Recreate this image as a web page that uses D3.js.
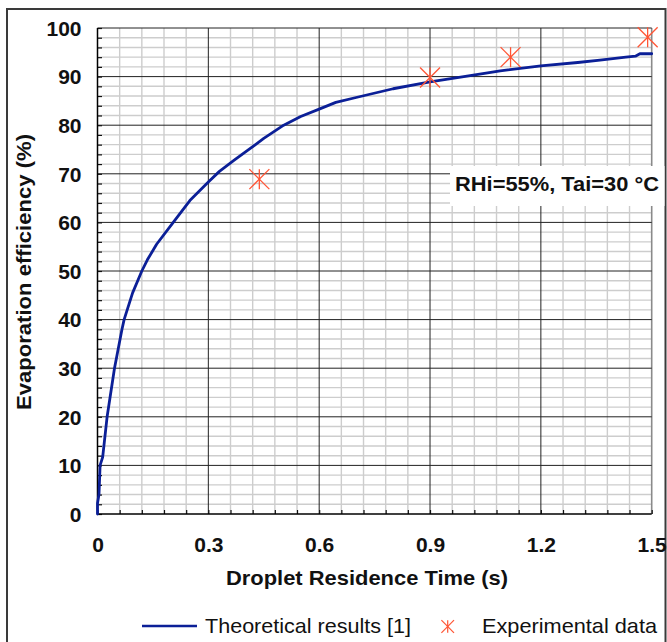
<!DOCTYPE html>
<html>
<head>
<meta charset="utf-8">
<script src="https://cdn.jsdelivr.net/npm/d3@7/dist/d3.min.js"></script>
<style>
  html, body { margin: 0; padding: 0; background: #fff; }
  svg { display: block; font-family: Arial, "Liberation Sans", sans-serif; }
</style>
</head>
<body>
<svg id="chart" width="667" height="642"></svg>
<script>
// Theoretical evaporation efficiency vs. droplet residence time
const residenceTime = [0, 0.0, 0.004, 0.007, 0.014, 0.026, 0.046, 0.066, 0.072, 0.095, 0.12, 0.135, 0.16, 0.205, 0.25, 0.3, 0.33, 0.37, 0.408, 0.45, 0.504, 0.55, 0.6, 0.645, 0.7, 0.8, 0.9, 1.0, 1.09, 1.2, 1.3, 1.36, 1.43, 1.456, 1.468, 1.5];
const efficiency    = [0, 2.2, 4, 10, 11.7, 20, 30, 37.9, 40, 45.5, 50, 52.3, 55.5, 60, 64.5, 68.3, 70.5, 72.8, 74.9, 77.3, 80, 81.8, 83.3, 84.7, 85.7, 87.5, 88.9, 90.1, 91.2, 92.2, 92.9, 93.4, 94.0, 94.2, 94.7, 94.7];

// Measured points
const expTime = [0.438, 0.9, 1.118, 1.489];
const expEff  = [68.9, 89.8, 94.0, 98.1];

// Axis ticks
const xTicks = [0, 0.3, 0.6, 0.9, 1.2, 1.5];
const xTickLabels = ["0", "0.3", "0.6", "0.9", "1.2", "1.5"];
const yTicks = [0, 10, 20, 30, 40, 50, 60, 70, 80, 90, 100];
const xMinor = d3.range(26).map(i => +(i * 0.06).toFixed(2));
const yMinor = d3.range(51).map(i => i * 2);

const svg = d3.select("#chart");
const x = d3.scaleLinear().domain([0, 1.5]).range([97.5, 651.7]);
const y = d3.scaleLinear().domain([0, 100]).range([514, 28]);

const FONT = 21;

// Outer chart frame
svg.append("rect")
  .attr("x", 7).attr("y", 9).attr("width", 658.5).attr("height", 660)
  .attr("fill", "#fff").attr("stroke", "#3a3a3a").attr("stroke-width", 2);

const plot = svg.append("g");

// Minor grid
const gMinor = plot.append("g");
gMinor.selectAll("line.vx").data(xMinor.filter(v => !xTicks.some(t => Math.abs(t - v) < 1e-6)))
  .join("line").attr("class", "vx")
  .attr("x1", d => x(d)).attr("x2", d => x(d)).attr("y1", y(100)).attr("y2", y(0))
  .attr("stroke", "#cdcdcd").attr("stroke-width", 1.4);
gMinor.selectAll("line.hy").data(yMinor.filter(v => v % 10 !== 0))
  .join("line").attr("class", "hy")
  .attr("x1", x(0)).attr("x2", x(1.5)).attr("y1", d => y(d)).attr("y2", d => y(d))
  .attr("stroke", "#cdcdcd").attr("stroke-width", 1.4);

// Major grid
const gMajor = plot.append("g");
gMajor.selectAll("line.vx").data(xTicks.slice(1))
  .join("line").attr("class", "vx")
  .attr("x1", d => x(d)).attr("x2", d => x(d)).attr("y1", y(100)).attr("y2", y(0))
  .attr("stroke", d => d === 1.5 ? "#8a8a8a" : "#222").attr("stroke-width", d => d === 1.5 ? 1.6 : 1);
gMajor.selectAll("line.hy").data(yTicks.slice(1))
  .join("line").attr("class", "hy")
  .attr("x1", x(0)).attr("x2", x(1.5)).attr("y1", d => y(d)).attr("y2", d => y(d))
  .attr("stroke", "#222").attr("stroke-width", 1);

// Minor tick marks (inward) on both axes
const yMinorAxis = d3.axisRight(y).tickValues(yMinor).tickSize(4.5).tickFormat("");
plot.append("g").attr("transform", `translate(${x(0)},0)`).call(yMinorAxis)
  .call(g => g.select(".domain").remove())
  .call(g => g.selectAll("line").attr("stroke", "#111").attr("stroke-width", 1.2));
const xMinorAxis = d3.axisTop(x).tickValues(xMinor).tickSize(4).tickFormat("");
plot.append("g").attr("transform", `translate(0,${y(0)})`).call(xMinorAxis)
  .call(g => g.select(".domain").remove())
  .call(g => g.selectAll("line").attr("stroke", "#111").attr("stroke-width", 1.2));

// Axis lines
plot.append("line").attr("x1", x(0)).attr("x2", x(0)).attr("y1", y(100)).attr("y2", y(0))
  .attr("stroke", "#000").attr("stroke-width", 1.5);
plot.append("line").attr("x1", x(0)).attr("x2", x(1.5)).attr("y1", y(0)).attr("y2", y(0))
  .attr("stroke", "#000").attr("stroke-width", 1.5);

// Tick labels
const yAxis = d3.axisLeft(y).tickValues(yTicks).tickSize(0).tickPadding(16);
svg.append("g").attr("transform", `translate(${x(0)},0)`).call(yAxis)
  .call(g => g.select(".domain").remove())
  .call(g => g.selectAll("text")
    .attr("font-size", FONT).attr("font-weight", "bold").attr("fill", "#111")
    .attr("font-family", "Arial, 'Liberation Sans', sans-serif")
    .attr("dy", 7.2));

const xAxis = d3.axisBottom(x).tickValues(xTicks).tickSize(0)
  .tickFormat((d, i) => xTickLabels[i]);
svg.append("g").attr("transform", `translate(0,${y(0)})`).call(xAxis)
  .call(g => g.select(".domain").remove())
  .call(g => g.selectAll("text")
    .attr("font-size", FONT).attr("font-weight", "bold").attr("fill", "#111")
    .attr("font-family", "Arial, 'Liberation Sans', sans-serif")
    .attr("y", 37.7).attr("dy", 0));

// Axis titles
svg.append("text")
  .attr("x", 367).attr("y", 585)
  .attr("text-anchor", "middle").attr("font-size", FONT).attr("font-weight", "bold").attr("fill", "#111")
  .attr("textLength", 282).attr("lengthAdjust", "spacingAndGlyphs")
  .text("Droplet Residence Time (s)");

svg.append("text")
  .attr("transform", `translate(31,272) rotate(-90)`)
  .attr("text-anchor", "middle").attr("font-size", FONT).attr("font-weight", "bold").attr("fill", "#111")
  .attr("textLength", 276).attr("lengthAdjust", "spacingAndGlyphs")
  .text("Evaporation efficiency (%)");

// Theoretical curve
const curveData = residenceTime.map((t, i) => [t, efficiency[i]]);
const line = d3.line().x(d => x(d[0])).y(d => y(d[1]));
svg.append("path").datum(curveData)
  .attr("d", line).attr("fill", "none")
  .attr("stroke", "#0b1f97").attr("stroke-width", 2.8)
  .attr("stroke-linejoin", "round").attr("stroke-linecap", "round");

// Asterisk marker
const STAR = "#ff5535";
function star(g, cx, cy, r) {
  g.append("line").attr("x1", cx).attr("x2", cx).attr("y1", cy - r).attr("y2", cy + r);
  g.append("line").attr("x1", cx - r).attr("x2", cx + r).attr("y1", cy - r).attr("y2", cy + r);
  g.append("line").attr("x1", cx - r).attr("x2", cx + r).attr("y1", cy + r).attr("y2", cy - r);
}
const gStars = svg.append("g").attr("stroke", STAR).attr("stroke-width", 1.3);
expTime.forEach((t, i) => star(gStars, x(t), y(expEff[i]), 10));

// Condition label box
svg.append("rect").attr("x", 450).attr("y", 166).attr("width", 214.5).attr("height", 40)
  .attr("fill", "#fff");
svg.append("text")
  .attr("x", 455).attr("y", 191).attr("font-size", FONT).attr("font-weight", "bold").attr("fill", "#111")
  .attr("textLength", 204).attr("lengthAdjust", "spacingAndGlyphs")
  .text("RHi=55%, Tai=30 °C");

// Legend
const lg = svg.append("g");
lg.append("line").attr("x1", 142).attr("x2", 197).attr("y1", 626).attr("y2", 626)
  .attr("stroke", "#0b1f97").attr("stroke-width", 2.5);
lg.append("text").attr("x", 205).attr("y", 633).attr("font-size", FONT).attr("fill", "#111")
  .attr("textLength", 206).attr("lengthAdjust", "spacingAndGlyphs")
  .text("Theoretical results [1]");
const lgStar = lg.append("g").attr("stroke", STAR).attr("stroke-width", 1.2);
star(lgStar, 447.7, 626.5, 6.3);
lg.append("text").attr("x", 482).attr("y", 633).attr("font-size", FONT).attr("fill", "#111")
  .attr("textLength", 175).attr("lengthAdjust", "spacingAndGlyphs")
  .text("Experimental data");
</script>
</body>
</html>
